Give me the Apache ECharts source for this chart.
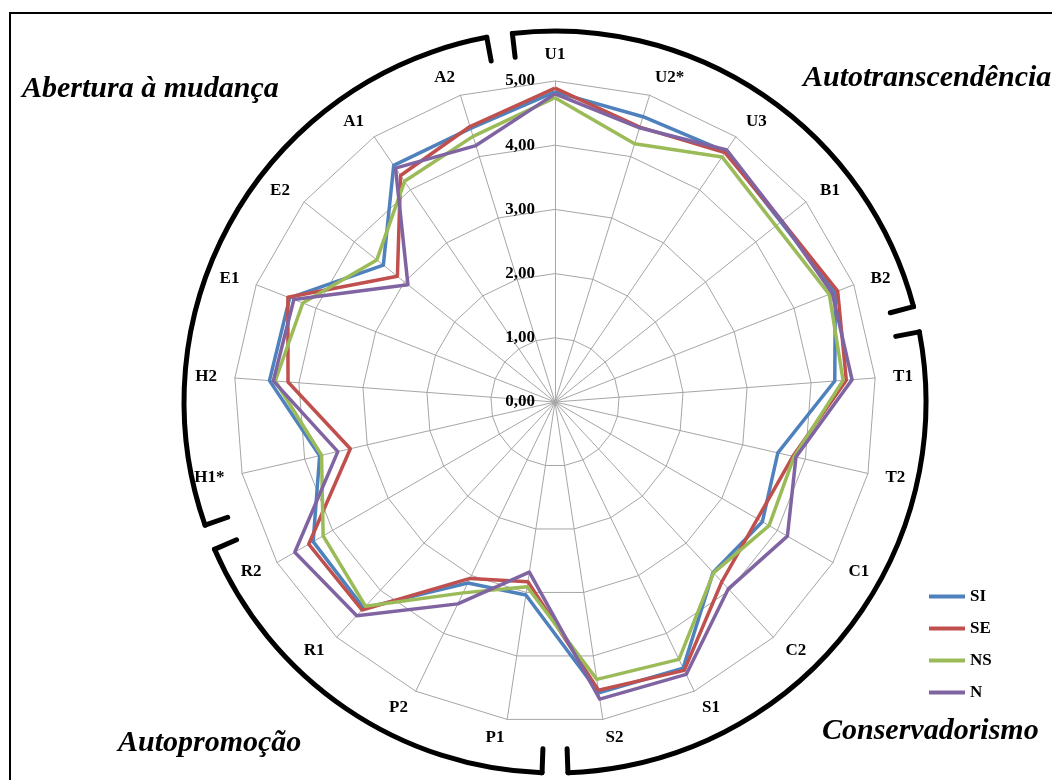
<!DOCTYPE html>
<html><head><meta charset="utf-8">
<script src="https://cdn.jsdelivr.net/npm/echarts@6/dist/echarts.min.js"></script>
<style>html,body{margin:0;padding:0;background:#fff}#c{width:1052px;height:780px}</style>
</head><body><div id="c"></div>
<script>
// Categories in clockwise order starting at the top
const categories = ['U1','U2*','U3','B1','B2','T1','T2','C1','C2','S1','S2','P1','P2','R1','R2','H1*','H2','E1','E2','A1','A2'];
const seriesNames = ['SI','SE','NS','N'];
const SI = [4.83,4.65,4.72,4.50,4.69,4.37,3.56,3.73,3.62,4.60,4.58,3.04,3.13,4.38,4.35,3.76,4.46,4.44,3.42,4.46,4.46];
const SE = [4.89,4.48,4.70,4.52,4.73,4.55,3.80,3.64,3.82,4.64,4.54,2.83,3.05,4.42,4.43,3.27,4.17,4.47,3.14,4.27,4.49];
const NS = [4.74,4.21,4.62,4.40,4.59,4.50,3.82,3.85,3.63,4.45,4.37,2.91,3.30,4.34,4.17,3.73,4.37,4.22,3.55,4.16,4.33];
const N  = [4.80,4.47,4.75,4.52,4.64,4.64,3.85,4.18,3.97,4.71,4.68,2.68,3.49,4.54,4.68,3.47,4.40,4.37,2.93,4.41,4.18];
const tickLabels = ['0,00','1,00','2,00','3,00','4,00','5,00'];
const groupTitles = ['Abertura à mudança','Autotranscendência','Conservadorismo','Autopromoção'];
const colors = ['#4F81BD','#C0504D','#9BBB59','#8064A2'];

const CX = 555, CY = 402, R = 321;
const FONT = '"Liberation Serif","Times New Roman",serif';

// ECharts radar lays indicators counter-clockwise; reorder so they run clockwise
const order = [0];
for (let i = categories.length - 1; i >= 1; i--) order.push(i);
const reorder = arr => order.map(i => arr[i]);

const indicator = reorder(categories).map((name, k) => {
  const o = { name: name, min: 0, max: 5 };
  if (k === 0) o.axisLabel = { show: true };
  return o;
});

const allData = [SI, SE, NS, N];
const series = allData.map((d, i) => ({
  type: 'radar',
  name: seriesNames[i],
  symbol: 'none',
  lineStyle: { width: 3.5, color: colors[i] },
  itemStyle: { color: colors[i] },
  data: [{ name: seriesNames[i], value: reorder(d) }],
  z: 2 + i
}));

// Bracket decorations around the chart (angles clockwise from top, degrees)
const BR = 371, HOOK = 24;
const brackets = [[250.6, 349.4], [353.4, 435.1], [79.1, 178.0], [182.0, 246.6]];
const graphics = [];
graphics.push({ type: 'rect', shape: { x: 10, y: 13, width: 1100, height: 800 },
  style: { fill: null, stroke: '#000', lineWidth: 2 }, z: 0, silent: true });
brackets.forEach(b => {
  const s = (b[0] - 90) * Math.PI / 180, e = (b[1] - 90) * Math.PI / 180;
  graphics.push({ type: 'arc', shape: { cx: CX, cy: CY, r: BR, startAngle: s, endAngle: e, clockwise: true },
    style: { fill: null, stroke: '#000', lineWidth: 5, lineCap: 'round' }, z: 1, silent: true });
  [s, e].forEach(a => {
    graphics.push({ type: 'line', shape: {
        x1: CX + BR * Math.cos(a), y1: CY + BR * Math.sin(a),
        x2: CX + (BR - HOOK) * Math.cos(a), y2: CY + (BR - HOOK) * Math.sin(a) },
      style: { stroke: '#000', lineWidth: 5, lineCap: 'round' }, z: 1, silent: true });
  });
});

const titleStyle = { fontFamily: FONT, fontStyle: 'italic', fontWeight: 'bold', fontSize: 30, color: '#000' };
const titles = [
  { text: groupTitles[0], left: 22, top: 74 },
  { text: groupTitles[1], left: 803, top: 63 },
  { text: groupTitles[2], left: 822, top: 716 },
  { text: groupTitles[3], left: 118, top: 728 }
].map(t => ({ text: t.text, left: t.left, top: t.top, padding: 0, textStyle: titleStyle }));

const chart = echarts.init(document.getElementById('c'));
chart.setOption({
  backgroundColor: '#fff',
  animation: false,
  color: colors,
  title: titles,
  legend: {
    orient: 'vertical', left: 924, top: 583,
    data: seriesNames,
    icon: 'rect', itemWidth: 36, itemHeight: 4, itemGap: 15,
    textStyle: { fontFamily: FONT, fontWeight: 'bold', fontSize: 17, color: '#000' }
  },
  radar: {
    center: [CX, CY], radius: R, startAngle: 90,
    splitNumber: 5, shape: 'polygon',
    indicator: indicator,
    nameGap: 18,
    axisName: { color: '#000', fontFamily: FONT, fontWeight: 'bold', fontSize: 17 },
    axisLine: { lineStyle: { color: '#a6a6a6', width: 1 } },
    splitLine: { lineStyle: { color: '#a6a6a6', width: 1 } },
    splitArea: { show: false },
    axisTick: { show: false },
    axisLabel: {
      show: false, margin: 20, color: '#000', fontFamily: FONT, fontWeight: 'bold', fontSize: 17,
      formatter: v => tickLabels[Math.round(v)] || ''
    }
  },
  graphic: graphics,
  series: series
});
</script></body></html>
